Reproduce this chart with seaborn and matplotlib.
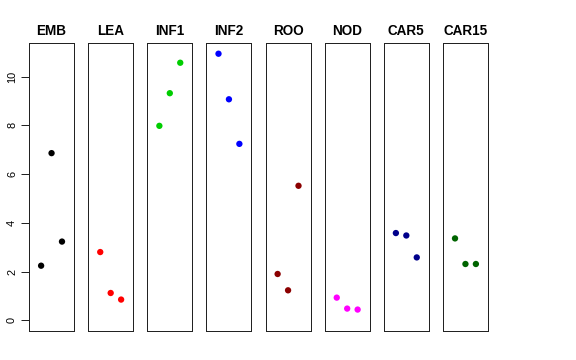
import numpy as np
import pandas as pd
import matplotlib
matplotlib.use("Agg")
import matplotlib.pyplot as plt
import seaborn as sns

# tissues and the three values for each one
tissues = ["EMB", "LEA", "INF1", "INF2", "ROO", "NOD", "CAR5", "CAR15"]
emb = [2.24, 6.86, 3.23]
lea = [2.80, 1.12, 0.85]
inf1 = [7.98, 9.32, 10.57]
inf2 = [10.94, 9.07, 7.24]
roo = [1.90, 1.23, 5.52]
nod = [0.93, 0.48, 0.44]
car5 = [3.58, 3.48, 2.58]
car15 = [3.36, 2.31, 2.31]
rep = [1, 2, 3]
colors = ["#000000", "#FF0000", "#00CD00", "#0000FF",
          "#8B0000", "#FF00FF", "#00008B", "#006400"]

values = [emb, lea, inf1, inf2, roo, nod, car5, car15]
df = pd.DataFrame({
    "tissue": np.repeat(tissues, len(rep)),
    "rep": rep * len(tissues),
    "value": np.concatenate(values),
})

sns.set_style("white")
plt.rcParams["font.family"] = ["Liberation Sans", "DejaVu Sans"]
plt.rcParams["text.color"] = "black"
plt.rcParams["ytick.color"] = "black"

fig, axes = plt.subplots(1, 8, figsize=(8, 5), dpi=72, sharey=True)
fig.subplots_adjust(left=29 / 576, right=488 / 576, top=1 - 43 / 360,
                    bottom=1 - 331 / 360, wspace=14 / 45)

for i, (ax, t) in enumerate(zip(axes, tissues)):
    sub = df[df["tissue"] == t]
    sns.scatterplot(data=sub, x="rep", y="value", color=colors[i], s=40,
                    edgecolor="none", ax=ax, legend=False)
    ax.set_title(t, fontsize=13.5, fontweight="bold", pad=8, color="black")
    ax.set_xlim(-0.16, 4.16)
    ax.set_ylim(-0.44, 11.38)
    ax.set_xticks([])
    ax.set_xlabel("")
    ax.set_ylabel("")
    for sp in ax.spines.values():
        sp.set_visible(True)
        sp.set_color("#222222")
        sp.set_linewidth(1)
    if i == 0:
        ax.set_yticks([0, 2, 4, 6, 8, 10])
        ax.tick_params(axis="y", left=True, length=8, width=1, pad=4,
                       labelsize=11, labelrotation=90, color="#222222",
                       labelcolor="black")
        for lb in ax.get_yticklabels():
            lb.set_va("center")
    else:
        ax.tick_params(axis="y", left=False)

fig.savefig("out.png", dpi=72)
